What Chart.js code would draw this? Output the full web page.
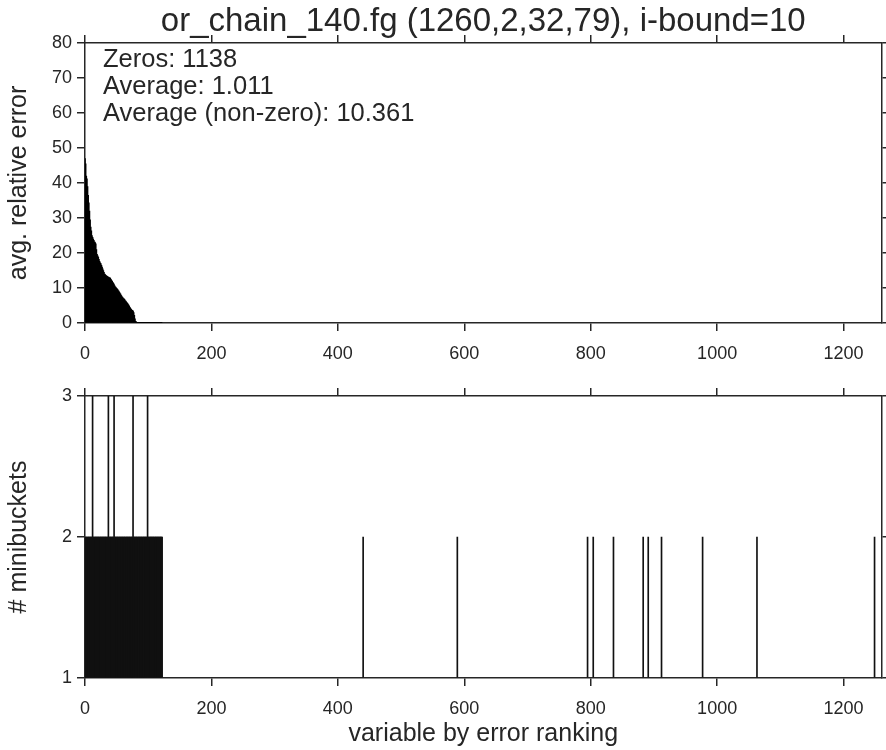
<!DOCTYPE html>
<html><head><meta charset="utf-8">
<script src="https://cdn.jsdelivr.net/npm/chart.js@4/dist/chart.umd.min.js"></script>
<style>
html,body{margin:0;padding:0;background:#fff;}
#wrap{position:relative;width:886px;height:750px;overflow:hidden;}
canvas{position:absolute;left:0;}
</style></head><body>
<div id="wrap">
<canvas id="c1" width="886" height="370" style="top:0;width:886px;height:370px"></canvas>
<canvas id="c2" width="886" height="380" style="top:370px;width:886px;height:380px"></canvas>
</div>
<script>
// ---------- data ----------
const titleText = 'or_chain_140.fg (1260,2,32,79), i-bound=10';
const numVariables = 1260;
const xTicks = [0, 200, 400, 600, 800, 1000, 1200];
const errorTicks = [0, 10, 20, 30, 40, 50, 60, 70, 80];
const bucketTicks = [1, 2, 3];
const statsLines = ['Zeros: 1138', 'Average: 1.011', 'Average (non-zero): 10.361'];

// avg. relative error for ranks 0..121 (all other ranks are 0)
const errorValues = [
  47.0, 45.5, 42.0, 41.2, 39.0, 36.5, 34.3, 32.0, 29.5, 27.4,
  26.3, 25.0, 24.5, 24.0, 23.6, 23.2, 23.0, 22.6, 21.0, 19.6,
  19.2, 18.8, 18.2, 17.6, 17.2, 17.0, 16.5, 16.0, 15.5, 15.0,
  14.5, 14.0, 13.8, 13.6, 13.5, 13.3, 13.2, 13.1, 13.0, 12.9,
  12.8, 12.5, 12.2, 11.9, 11.6, 11.3, 11.0, 10.6, 10.3, 10.1,
  9.9, 9.7, 9.5, 9.2, 8.9, 8.6, 8.3, 8.0, 7.7, 7.4,
  7.2, 7.0, 6.8, 6.6, 6.3, 6.1, 5.9, 5.6, 5.4, 5.1,
  4.8, 4.5, 4.2, 3.9, 3.7, 3.6, 3.4, 3.0, 2.2, 1.2,
  0.5, 0.3, 0.2, 0.18, 0.17, 0.16, 0.15, 0.14, 0.13, 0.12,
  0.12, 0.11, 0.1, 0.1, 0.09, 0.09, 0.08, 0.08, 0.07, 0.07,
  0.06, 0.06, 0.05, 0.05, 0.05, 0.04, 0.04, 0.04, 0.03, 0.03,
  0.03, 0.03, 0.02, 0.02, 0.02, 0.02, 0.02, 0.01, 0.01, 0.01,
  0.01, 0.01
];

// # minibuckets for ranks 0..122 (consecutive)
const denseBuckets = [
  2,2,2,2,2,2,2,2,2,2,
  2,2,3,2,2,2,2,2,2,2,
  2,2,2,2,2,2,2,2,2,2,
  2,2,2,2,2,2,2,3,2,2,
  2,2,2,2,2,2,3,2,2,2,
  2,2,2,2,2,2,2,2,2,2,
  2,2,2,2,2,2,2,2,2,2,
  2,2,2,2,2,2,3,2,2,2,
  2,2,2,2,2,2,2,2,2,2,
  2,2,2,2,2,2,2,2,2,3,
  2,2,2,2,2,2,2,2,2,2,
  2,2,2,2,2,2,2,2,2,2,
  2,2,2
];
// isolated ranks with more than one minibucket (all other ranks have 1)
const sparseRanks = [440, 589, 795, 804, 836, 883, 891, 912, 977, 1063, 1249];
const sparseBuckets = [2, 2, 2, 2, 2, 2, 2, 2, 2, 2, 2];

// ---------- styling ----------
const FONT = '"Liberation Sans", Arial, Helvetica, sans-serif';
const INK = '#262626';
Chart.defaults.font.family = FONT;
Chart.defaults.color = INK;

const setTicks = arr => s => { s.ticks = arr.map(v => ({ value: v })); };
const plainLabel = v => String(v);
const gridOpts = { drawOnChartArea: false, tickLength: 8, color: INK, lineWidth: 1.5, offset: false };
const borderOpts = { color: INK, width: 1.5 };

function xAxis(height, title) {
  return {
    type: 'linear', position: 'bottom', min: 0, max: numVariables, offset: false,
    afterBuildTicks: setTicks(xTicks), afterFit: s => { s.height = height; },
    grid: gridOpts, border: borderOpts,
    ticks: { padding: 12, color: INK, font: { size: 18 }, callback: plainLabel },
    title: title ? { display: true, text: title, color: INK, font: { size: 25 }, padding: { top: 0, bottom: 1 } } : { display: false }
  };
}
function xTopAxis(height, title) {
  return {
    type: 'linear', position: 'top', min: 0, max: numVariables, offset: false,
    afterBuildTicks: setTicks(xTicks), afterFit: s => { s.height = height; },
    grid: gridOpts, border: borderOpts, ticks: { display: false },
    title: title ? { display: true, text: title, color: INK, font: { size: 33 }, padding: { top: 2, bottom: 0 } } : { display: false }
  };
}
function yAxis(min, max, ticks, title) {
  return {
    type: 'linear', position: 'left', min, max,
    afterBuildTicks: setTicks(ticks), afterFit: s => { s.width = 85; },
    grid: gridOpts, border: borderOpts,
    ticks: { padding: 5, color: INK, font: { size: 18 }, callback: plainLabel },
    title: { display: true, text: title, color: INK, font: { size: 25 }, padding: { top: 4, bottom: 0 } }
  };
}
function yRightAxis(min, max, ticks) {
  return {
    type: 'linear', position: 'right', min, max,
    afterBuildTicks: setTicks(ticks), afterFit: s => { s.width = 4.5; },
    grid: gridOpts, border: borderOpts, ticks: { display: false }
  };
}

const statsPlugin = {
  id: 'stats',
  afterDraw(chart) {
    const { ctx, chartArea } = chart;
    ctx.save();
    ctx.font = '25.5px ' + FONT;
    ctx.fillStyle = INK;
    ctx.textBaseline = 'alphabetic';
    ctx.textAlign = 'left';
    statsLines.forEach((t, i) => ctx.fillText(t, chartArea.left + 18, chartArea.top + 24 + i * 26.8));
    ctx.restore();
  }
};

const common = {
  responsive: false, animation: false, devicePixelRatio: 1,
  layout: { padding: 0 },
  plugins: { legend: { display: false }, tooltip: { enabled: false }, title: { display: false } }
};

new Chart(document.getElementById('c1'), {
  type: 'bar',
  data: {
    datasets: [{
      data: errorValues.map((v, i) => ({ x: i, y: v })),
      backgroundColor: '#000', borderWidth: 0, barThickness: 1,
      xAxisID: 'x', yAxisID: 'y'
    }]
  },
  options: Object.assign({}, common, {
    scales: {
      x: xAxis(47, null),
      x2: xTopAxis(43, titleText),
      y: yAxis(0, 80, errorTicks, 'avg. relative error'),
      y2: yRightAxis(0, 80, errorTicks)
    }
  }),
  plugins: [statsPlugin]
});

const bucketPoints = denseBuckets.map((v, i) => ({ x: i, y: v }))
  .concat(sparseRanks.map((r, i) => ({ x: r, y: sparseBuckets[i] })));

new Chart(document.getElementById('c2'), {
  type: 'bar',
  data: {
    datasets: [{
      data: bucketPoints,
      base: 1,
      backgroundColor: '#111', borderWidth: 0, barThickness: 1,
      xAxisID: 'x', yAxisID: 'y'
    }]
  },
  options: Object.assign({}, common, {
    scales: {
      x: xAxis(72, 'variable by error ranking'),
      x2: xTopAxis(26, null),
      y: yAxis(1, 3, bucketTicks, '# minibuckets'),
      y2: yRightAxis(1, 3, bucketTicks)
    }
  })
});
</script>
</body></html>
